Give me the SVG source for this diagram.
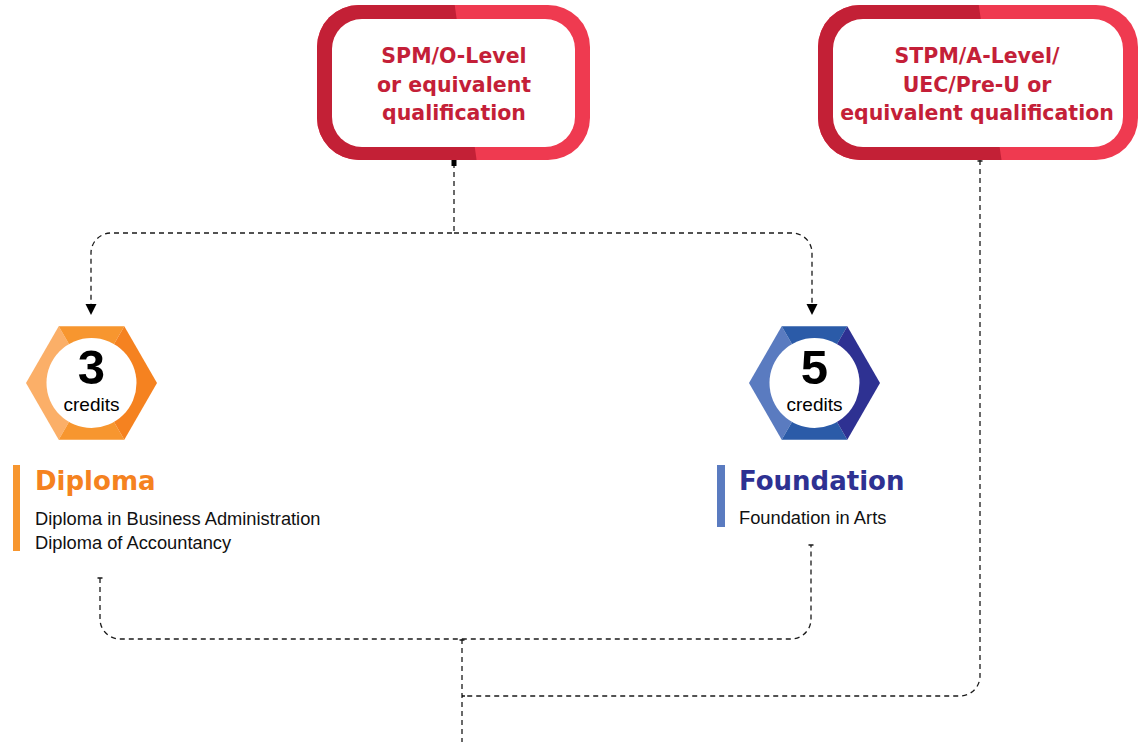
<svg xmlns="http://www.w3.org/2000/svg" width="1145" height="742" viewBox="0 0 1145 742">
<defs>
<style>
.qt{font-family:"DejaVu Sans",sans-serif;font-weight:bold;font-size:20.5px;fill:#C41F38;text-anchor:middle}
.num{font-family:"Liberation Sans",Arial,sans-serif;font-weight:bold;font-size:49px;fill:#000;text-anchor:middle}
.cr{font-family:"Liberation Sans",Arial,sans-serif;font-size:19px;fill:#000;text-anchor:middle}
.ttl{font-family:"DejaVu Sans",sans-serif;font-weight:bold;font-size:26px}
.desc{font-family:"Liberation Sans",Arial,sans-serif;font-size:18.3px;fill:#111}
.dash{fill:none;stroke:#1a1a1a;stroke-width:1.3;stroke-dasharray:5 4}
</style>
<clipPath id="c1"><polygon points="300,0 454,0 478,170 300,170"/></clipPath>
<clipPath id="c2"><polygon points="800,0 978,0 1003,170 800,170"/></clipPath>
</defs>

<g id="connectors">
<path class="dash" d="M454,163 V233 H111 A20,20 0 0 0 91,253 V306"/>
<path class="dash" d="M454,233 H792 A20,20 0 0 1 812,253 V306"/>
<polygon points="85.5,304 96.5,304 91,315" fill="#000"/>
<polygon points="806.5,304 817.5,304 812,315" fill="#000"/>
<rect x="451.5" y="160" width="5" height="6" fill="#000"/>
<path class="dash" d="M100,578 V619 A20,20 0 0 0 120,639 H791 A20,20 0 0 0 811,619 V545"/>
<path class="dash" d="M462,639 V742"/>
<path class="dash" d="M980,160 V676 A20,20 0 0 1 960,696 H462"/>
<path d="M97.5,578 H102.5 M808.5,545 H813.5 M459.5,640 H464.5 M977.5,161 H982.5 M462,696 H465" stroke="#1a1a1a" stroke-width="1.3"/>
</g>

<g id="node-spm">
<rect x="317" y="5" width="273" height="155" rx="42" fill="#EF3A50"/>
<rect x="317" y="5" width="273" height="155" rx="42" fill="#C32036" clip-path="url(#c1)"/>
<rect x="332" y="19" width="243" height="128" rx="30" fill="#fff"/>
<text class="qt" x="454" y="63">SPM/O-Level</text>
<text class="qt" x="454" y="92">or equivalent</text>
<text class="qt" x="454" y="120">qualification</text>
</g>

<g id="node-stpm">
<rect x="818" y="5" width="320" height="155" rx="42" fill="#EF3A50"/>
<rect x="818" y="5" width="320" height="155" rx="42" fill="#C32036" clip-path="url(#c2)"/>
<rect x="833" y="19" width="290" height="128" rx="30" fill="#fff"/>
<text class="qt" x="977" y="63">STPM/A-Level/</text>
<text class="qt" x="977" y="92">UEC/Pre-U or</text>
<text class="qt" x="977" y="120">equivalent qualification</text>
</g>

<g id="node-3credits">
<polygon points="26,383 58.7,326.3 91.5,383 58.7,439.7" fill="#FBAF68"/>
<polygon points="58.7,326.3 124.3,326.3 91.5,383" fill="#F7962F"/>
<polygon points="58.7,439.7 124.3,439.7 91.5,383" fill="#F7962F"/>
<polygon points="124.3,326.3 157,383 124.3,439.7 91.5,383" fill="#F58220"/>
<circle cx="91.5" cy="383" r="45" fill="#fff"/>
<text class="num" x="91.5" y="384">3</text>
<text class="cr" x="91.5" y="411">credits</text>
</g>

<g id="node-5credits">
<polygon points="749,383 781.7,326.3 814.5,383 781.7,439.7" fill="#5A7BC0"/>
<polygon points="781.7,326.3 847.3,326.3 814.5,383" fill="#2B5BA8"/>
<polygon points="781.7,439.7 847.3,439.7 814.5,383" fill="#2B5BA8"/>
<polygon points="847.3,326.3 880,383 847.3,439.7 814.5,383" fill="#2E3192"/>
<circle cx="814.5" cy="383" r="45" fill="#fff"/>
<text class="num" x="814.5" y="384">5</text>
<text class="cr" x="814.5" y="411">credits</text>
</g>

<g id="node-diploma">
<rect x="13" y="465" width="7" height="86" fill="#F7962F"/>
<text class="ttl" x="35" y="490" fill="#F58220">Diploma</text>
<text class="desc" x="35" y="525">Diploma in Business Administration</text>
<text class="desc" x="35" y="549">Diploma of Accountancy</text>
</g>

<g id="node-foundation">
<rect x="717" y="465" width="8" height="62" fill="#5A7BC0"/>
<text class="ttl" x="739" y="490" fill="#2E3192">Foundation</text>
<text class="desc" x="739" y="524">Foundation in Arts</text>
</g>
</svg>
